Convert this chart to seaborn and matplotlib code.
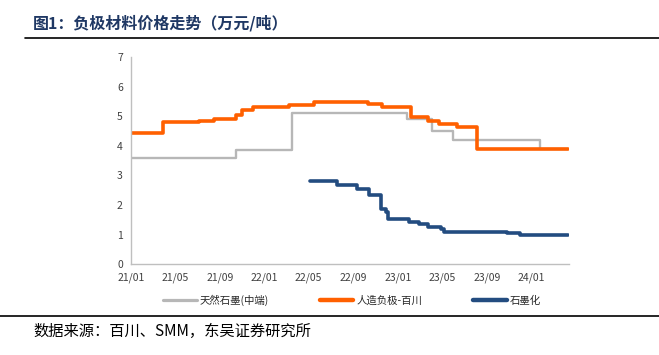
import pandas as pd
import matplotlib.pyplot as plt
import matplotlib.dates as mdates
from matplotlib.lines import Line2D
import seaborn as sns

# 价格阶梯数据（万元/吨），日期为价格变动日
natural_dates = ['2021-01-01', '2021-10-15', '2022-03-18', '2023-01-25', '2023-04-05',
                 '2023-06-01', '2024-01-25', '2024-04-10']
natural_vals = [3.6, 3.85, 5.1, 4.9, 4.5, 4.2, 3.88, 3.88]

artificial_dates = ['2021-01-01', '2021-03-28', '2021-07-06', '2021-08-15', '2021-10-15',
                    '2021-11-01', '2021-12-01', '2022-03-10', '2022-05-15', '2022-10-10',
                    '2022-11-18', '2023-02-06', '2023-03-25', '2023-04-22', '2023-06-12',
                    '2023-08-04', '2024-04-10']
artificial_vals = [4.42, 4.8, 4.83, 4.92, 5.03, 5.2, 5.33, 5.37, 5.5, 5.42,
                   5.33, 4.98, 4.83, 4.75, 4.64, 3.88, 3.88]

graphitize_dates = ['2022-05-06', '2022-07-18', '2022-09-12', '2022-10-15', '2022-11-15',
                    '2022-11-29', '2022-12-06', '2023-02-01', '2023-02-28', '2023-03-25',
                    '2023-04-28', '2023-05-06', '2023-10-25', '2023-12-01', '2024-04-10']
graphitize_vals = [2.8, 2.69, 2.53, 2.33, 1.88, 1.77, 1.51, 1.42, 1.36, 1.26,
                   1.18, 1.09, 1.05, 1.0, 1.0]

names = ['天然石墨(中端)', '人造负极-百川', '石墨化']
colors = ['#B7B7B7', '#FF6000', '#234C80']
widths = [1.7, 2.6, 2.6]

sns.set_theme(style='white')
plt.rcParams['font.family'] = ['Noto Sans CJK SC', 'DejaVu Sans']

fig = plt.figure(figsize=(6.59, 3.55), dpi=100)
ax = fig.add_axes([0.199, 0.256, 0.664, 0.583])

series = [(natural_dates, natural_vals), (artificial_dates, artificial_vals),
          (graphitize_dates, graphitize_vals)]
for (d, v), c, w in zip(series, colors, widths):
    sns.lineplot(x=pd.to_datetime(d), y=v, ax=ax, color=c, linewidth=w,
                 drawstyle='steps-post')

ax.set_xlim(pd.Timestamp('2021-01-01'), pd.Timestamp('2024-04-12'))
ax.set_ylim(0, 7)
ax.set_yticks(range(0, 8))
ax.xaxis.set_major_locator(mdates.MonthLocator(bymonth=[1, 5, 9]))
ax.xaxis.set_major_formatter(mdates.DateFormatter('%y/%m'))
ax.xaxis.set_minor_locator(mdates.MonthLocator())
ax.tick_params(axis='both', labelsize=7.5, colors='#404040', length=3, width=0.8,
               direction='out', pad=3)
ax.tick_params(axis='x', which='minor', length=3, width=0.8, color='#A6A6A6')
ax.tick_params(axis='both', which='major', color='#A6A6A6')
ax.set_xlabel('')
ax.set_ylabel('')
for s in ['top', 'right']:
    ax.spines[s].set_visible(False)
for s in ['left', 'bottom']:
    ax.spines[s].set_color('#BFBFBF')
    ax.spines[s].set_linewidth(1.0)

handles = [Line2D([0], [0], color=c, linewidth=w + 0.6) for c, w in zip(colors, widths)]
ax.legend(handles, names, loc='center', bbox_to_anchor=(0.505, -0.175), ncol=3,
          frameon=False, fontsize=7.5, handlelength=3.2, columnspacing=4.9,
          handletextpad=0.3)

fig.text(0.05, 0.935, '图1：负极材料价格走势（万元/吨）', fontsize=11.5,
         fontweight='bold', color='#1F3864', va='center')
fig.add_artist(Line2D([0.038, 1.0], [0.893, 0.893], color='black', linewidth=1.2))
fig.add_artist(Line2D([0.0, 1.0], [0.11, 0.11], color='black', linewidth=1.2))
fig.text(0.05, 0.065, '数据来源：百川、SMM，东吴证券研究所', fontsize=11,
         color='black', va='center')

fig.savefig('out.png', dpi=100)
plt.close(fig)
